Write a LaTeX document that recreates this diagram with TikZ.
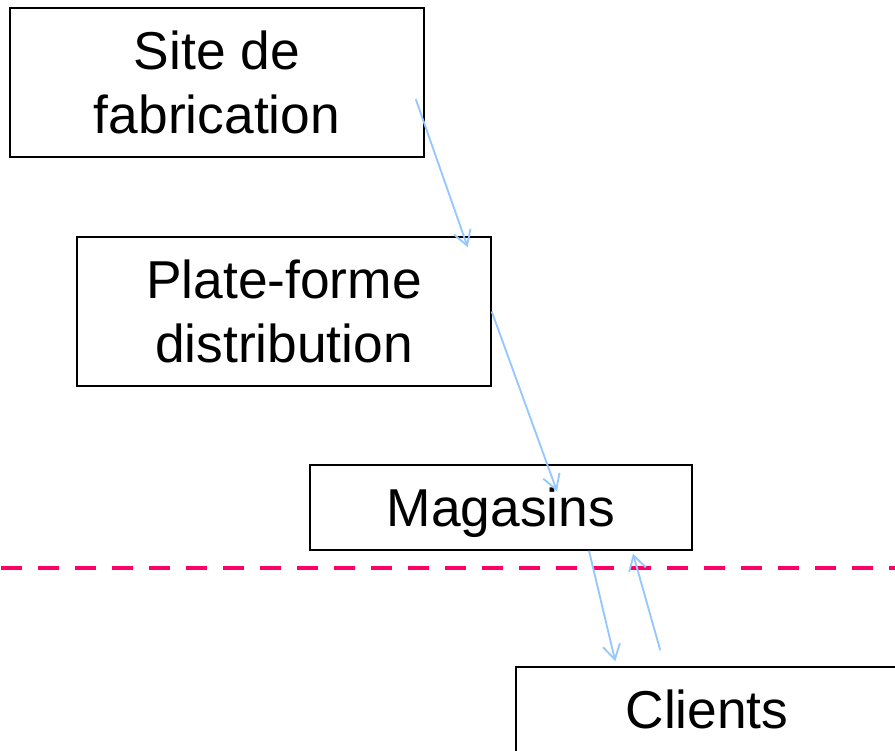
\documentclass[tikz,border=0pt]{standalone}
\usepackage{fontspec}
\setmainfont{Liberation Sans}
\usepackage{tikz}
\usetikzlibrary{arrows.meta,calc}
\definecolor{flowblue}{RGB}{150,200,255}
\definecolor{limitpink}{RGB}{255,0,102}
\tikzstyle{stage} = [rectangle, draw=black, line width=1.1pt, align=center, font=\fontsize{40}{48}\selectfont, inner sep=0pt]
\tikzstyle{flow} = [draw=flowblue, line width=1.4pt, -{Straight Barb[length=11pt,width=13pt]}]

\begin{document}
\begin{tikzpicture}[x=0.75pt, y=-0.75pt]
\useasboundingbox (0,0) rectangle (895,750);

\node (site) [stage, minimum width=310.5pt, minimum height=111.75pt] at (217,82.5) {Site de\\fabrication};
\node (plateforme) [stage, minimum width=310.5pt, minimum height=111.75pt] at (284,311.5) {Plate-forme\\distribution};
\node (magasins) [stage, text depth=0pt, minimum width=286.5pt, minimum height=63.75pt] at (501,507.5) {Magasins};
\node (clients) [stage, text depth=0pt, minimum width=286.5pt, minimum height=63.75pt] at (707,709.5) {Clients};

% limite magasins / clients
\draw [limitpink, line width=3pt, dash pattern=on 15.75pt off 12pt] (1,568) -- (895,568);

\draw [flow] ($(site.east)+(-9,16.5)$) -- ($(plateforme.north east)+(-24,11)$);
\draw [flow] (plateforme.east) -- ($(magasins.north)+(56,27)$);
\draw [flow] ($(magasins.south)+(88,0)$) -- ($(clients.north west)+(100,-5)$);
\draw [flow] ($(clients.north west)+(145,-16)$) -- ($(magasins.south)+(132,3)$);
\end{tikzpicture}
\end{document}
